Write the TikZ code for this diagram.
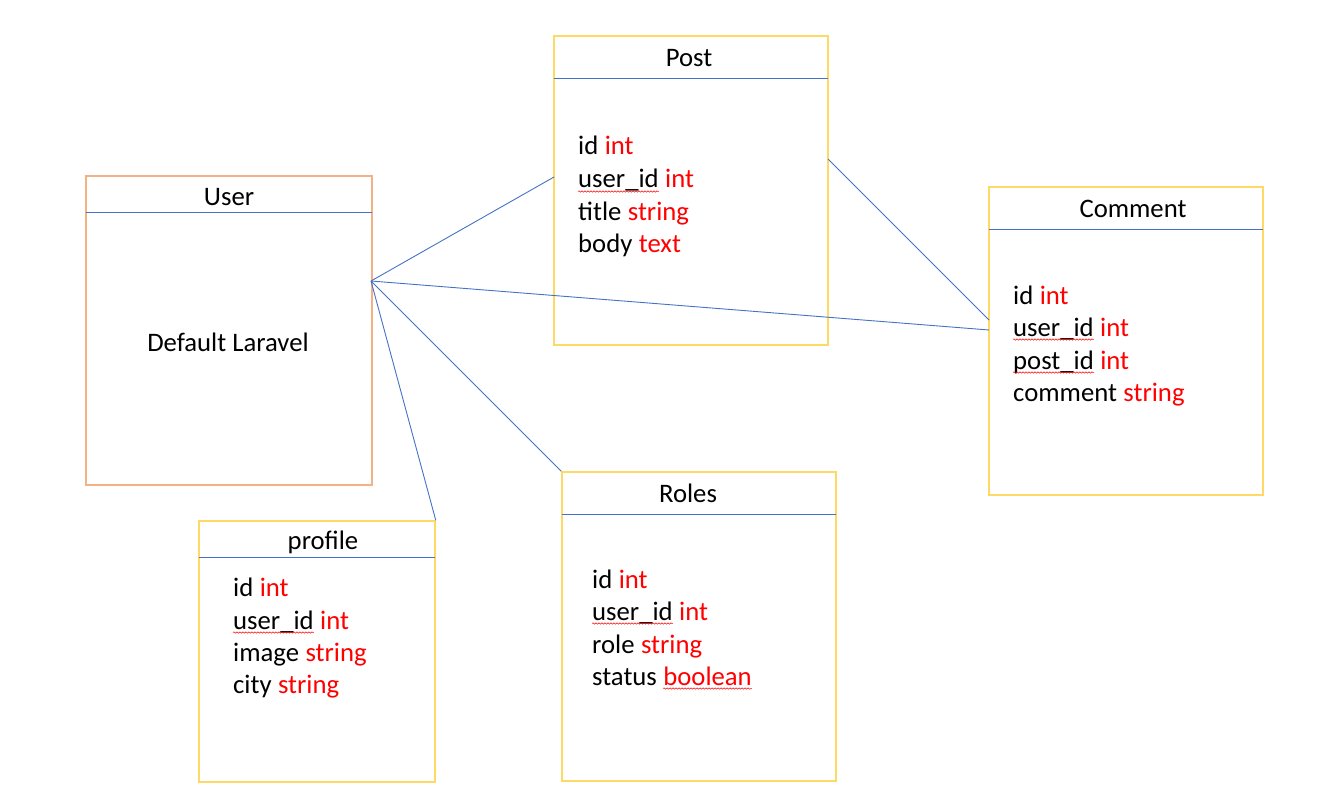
\documentclass[tikz,border=0pt]{standalone}
\usepackage{fontspec}
\setmainfont{Carlito}
\usetikzlibrary{decorations.pathmorphing}
\definecolor{tblyellow}{HTML}{FFD966}
\definecolor{tblorange}{HTML}{F4B183}
\definecolor{linkblue}{HTML}{4472C4}
\definecolor{typered}{HTML}{FF0000}
\tikzset{
  tablebox/.style={draw=tblyellow, line width=1.5pt, inner sep=0pt, rectangle},
  headrule/.style={draw=linkblue, line width=0.9pt},
  link/.style={draw=linkblue, line width=0.9pt},
  label/.style={inner sep=0pt, anchor=base, font=\fontsize{26.7}{32}\selectfont},
  field/.style={inner sep=0pt, anchor=base west, font=\fontsize{26.7}{32}\selectfont},
  typ/.style={field, text=typered},
  wavy/.style={draw=typered, line width=0.5pt, decorate,
    decoration={snake, amplitude=0.7pt, segment length=3pt}},
}
% Field row: name node #2 at #3, with its type after it
\newcommand{\fieldrow}[4]{%
  \node[field] (#1) at (#3) {#2};
  \node[typ] at (#1.base east) {\ #4};
}
\newcommand{\squiggle}[1]{%
  \draw[wavy] ([yshift=-3.5pt]#1.base west) -- ([yshift=-3.5pt]#1.base east);
}
\begin{document}
\begin{tikzpicture}[x=1pt, y=-1pt]
\useasboundingbox (0,0) rectangle (1330,805);

% ---- User ----
\node[tablebox, draw=tblorange, minimum width=286pt, minimum height=309pt] (user) at (229,330.5) {};
\draw[headrule] (86,212) -- (372,212);
\node[label] (usert) at (229,206) {User};
\node[font=\fontsize{26.7}{32}\selectfont, inner sep=0pt] (userd) at (228,342) {Default Laravel};

% ---- Post ----
\node[tablebox, minimum width=274pt, minimum height=309pt] (post) at (691,190.5) {};
\draw[headrule] (554,78) -- (828,78);
\node[label] (postt) at (689,67) {Post};
\fieldrow{p1}{id}{578,155}{int}
\fieldrow{p2}{user\_id}{578,188}{int}
\fieldrow{p3}{title}{578,220}{string}
\fieldrow{p4}{body}{578,252}{text}
\squiggle{p2}

% ---- Comment ----
\node[tablebox, minimum width=274pt, minimum height=308pt] (comment) at (1126,341) {};
\draw[headrule] (989,229) -- (1263,229);
\node[label] (commentt) at (1133,218) {Comment};
\fieldrow{c1}{id}{1013,304}{int}
\fieldrow{c2}{user\_id}{1013,336}{int}
\fieldrow{c3}{post\_id}{1013,369}{int}
\fieldrow{c4}{comment}{1013,401}{string}
\squiggle{c2}
\squiggle{c3}

% ---- Roles ----
\node[tablebox, minimum width=274pt, minimum height=309pt] (roles) at (699,626.5) {};
\draw[headrule] (562,514) -- (836,514);
\node[label] (rolest) at (688,502) {Roles};
\fieldrow{r1}{id}{592,588}{int}
\fieldrow{r2}{user\_id}{592,620}{int}
\fieldrow{r3}{role}{592,653}{string}
\node[field] (r4) at (592,685) {status};
\node[typ] (r4t) at (r4.base east) {\ boolean};
\squiggle{r2}
\draw[wavy] ([yshift=-3.5pt,xshift=6pt]r4t.base west) -- ([yshift=-3.5pt]r4t.base east);

% ---- profile ----
\node[tablebox, minimum width=236pt, minimum height=261pt] (profile) at (317,651.5) {};
\draw[headrule] (199,557) -- (435,557);
\node[label] (profilet) at (323,549) {profile};
\fieldrow{f1}{id}{233,596}{int}
\fieldrow{f2}{user\_id}{233,629}{int}
\fieldrow{f3}{image}{233,661}{string}
\fieldrow{f4}{city}{233,693}{string}
\squiggle{f2}

% ---- relations ----
\coordinate (hub) at (371,281);
\coordinate (postin) at (554,177);
\coordinate (postout) at (828,159);
\coordinate (commentu) at (989,330);
\coordinate (commentp) at (989,320);
\draw[link] (hub) -- (postin);
\draw[link] (hub) -- (commentu);
\draw[link] (hub) -- (roles.north west);
\draw[link] (hub) -- (profile.north east);
\draw[link] (postout) -- (commentp);
\end{tikzpicture}
\end{document}
